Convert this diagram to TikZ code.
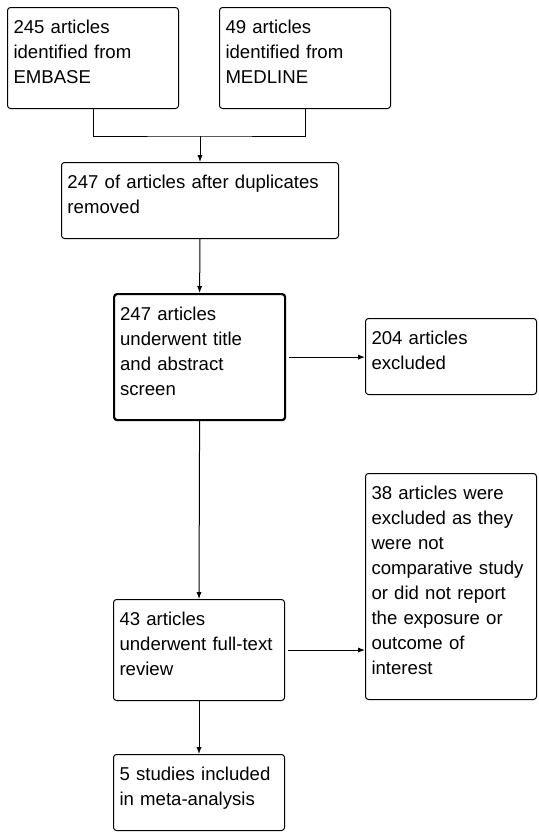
\documentclass[tikz,border=0pt]{standalone}
\usepackage{fontspec}
\setmainfont{Liberation Sans}
\usetikzlibrary{arrows.meta}
\usetikzlibrary{positioning}
\tikzstyle{box} = [draw=black, rounded corners=1.5pt, line width=0.5pt, anchor=north west, align=left, inner xsep=3pt, inner ysep=0pt, text height=13pt, font=\fontsize{9.3}{12.5}\selectfont]
\tikzstyle{narrow} = [box, text width=79.5pt]
\tikzstyle{wide} = [box, text width=132.5pt]
\tikzstyle{arrow} = [->,>={Latex[length=3.5pt,width=2.6pt]}, line width=0.5pt]

\begin{document}
\begin{tikzpicture}[x=0.5pt, y=-0.5pt]

  \useasboundingbox (0,0) rectangle (539,837);

  % sources
  \node[narrow, text depth=37.5pt] (embase) at (7,7) {245 articles\\identified from\\EMBASE};
  \node[narrow, text depth=37.5pt] (medline) at (219,7) {49 articles\\identified from\\MEDLINE};

  % main column
  \node[wide, text depth=25pt] (dedup) at (61,162) {247 of articles after duplicates\\removed};
  \node[narrow, text depth=50pt, line width=1.1pt] (screen) at (113,293) {247 articles\\underwent title\\and abstract\\screen};
  \node[narrow, text depth=37.5pt] (fulltext) at (113,599) {43 articles\\underwent full-text\\review};
  \node[narrow, text depth=25pt] (included) at (113,754) {5 studies included\\in meta-analysis};

  % exclusions
  \node[narrow, text depth=25pt] (excl1) at (365,318) {204 articles\\excluded};
  \node[narrow, text depth=100pt] (excl2) at (365,473) {38 articles were\\excluded as they\\were not\\comparative study\\or did not report\\the exposure or\\outcome of\\interest};

  % connectors
  \coordinate (merge) at (dedup.north |- 0,136);
  \draw[line width=0.5pt] (embase.south) |- (merge) -| (medline.south);
  \draw[arrow] (merge) -- (dedup.north);
  \draw[arrow] (dedup.south) -- (screen.north);
  \draw[arrow, shorten <=1.5pt] (screen.east) -- (screen.east -| excl1.west);
  \draw[arrow] (screen.south) -- (fulltext.north);
  \draw[arrow, shorten <=1.5pt] (fulltext.east) -- (fulltext.east -| excl2.west);
  \draw[arrow] (fulltext.south) -- (included.north);

\end{tikzpicture}
\end{document}
